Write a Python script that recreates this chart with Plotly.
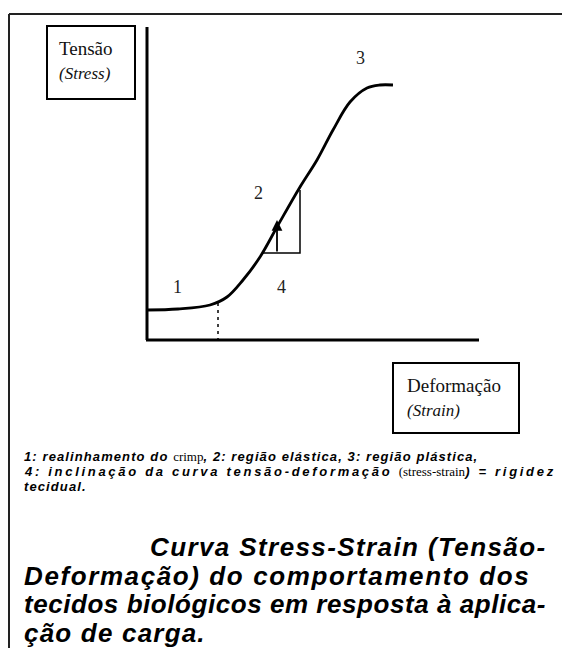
import plotly.graph_objects as go

# Stress-strain curve (schematic), origin at the axes corner
strain = [0, 31, 63, 80, 96, 113, 130, 153, 170, 186, 203, 220, 233, 246]
stress = [30, 31, 35, 43, 60, 83, 113, 153, 180, 210, 238, 252, 255, 255]

# Region labels
region_labels = ["1", "2", "3", "4"]
region_x = [30, 111, 213, 134]
region_y = [53, 147, 282, 53]

# Slope triangle (region 4) and crimp limit
tri_x = [116, 153, 153]
tri_y = [87, 87, 150]
crimp_x = 71
crimp_y = 37

y_label = ["Tensão", "<i>(Stress)</i>"]
x_label = ["Deformação", "<i>(Strain)</i>"]

SERIF = "<span style='font-family:Liberation Serif;font-style:normal;font-weight:normal;letter-spacing:0px'>"
caption = [
    "1: realinhamento do " + SERIF + "crimp</span>, 2: região elástica, 3: região plástica,",
    "4: inclinação da curva tensão-deformação " + SERIF + "(stress-strain</span>) = rigidez",
    "tecidual.",
]
caption_spacing = [1.1, 2.7, 1.1]
title_lines = [
    "Curva Stress-Strain (Tensão-",
    "Deformação) do comportamento dos",
    "tecidos biológicos em resposta à aplica-",
    "ção de carga.",
]
title_spacing = [1.4, 1.6, 0.55, 1.2]

fig = go.Figure()
fig.add_trace(go.Scatter(x=strain, y=stress, mode="lines",
                         line=dict(color="black", width=2.8, shape="spline", smoothing=1),
                         hoverinfo="skip", showlegend=False))
fig.add_trace(go.Scatter(x=tri_x, y=tri_y, mode="lines",
                         line=dict(color="black", width=1.5),
                         hoverinfo="skip", showlegend=False))
fig.add_trace(go.Scatter(x=[crimp_x, crimp_x], y=[crimp_y, 0], mode="lines",
                         line=dict(color="black", width=1.5, dash="3px,4px"),
                         hoverinfo="skip", showlegend=False))

shapes = []
# outer frame (top and left)
shapes.append(dict(type="line", x0=-138, y0=326, x1=420, y1=326, line=dict(color="#222", width=2)))
shapes.append(dict(type="line", x0=-138, y0=326, x1=-138, y1=-320, line=dict(color="#222", width=2)))
# axes
shapes.append(dict(type="line", x0=0, y0=313, x1=0, y1=0, line=dict(color="black", width=3)))
shapes.append(dict(type="line", x0=-1, y0=0, x1=332, y1=0, line=dict(color="black", width=3)))
# label boxes
shapes.append(dict(type="rect", x0=-100, y0=314, x1=-12, y1=241, line=dict(color="black", width=2)))
shapes.append(dict(type="rect", x0=246, y0=-23, x1=372, y1=-93, line=dict(color="black", width=2)))

annotations = []
# slope arrow
annotations.append(dict(x=130, y=120, ax=130, ay=87, axref="x", ayref="y", xref="x", yref="y",
                        text="", showarrow=True, arrowhead=2, arrowsize=1.2, arrowwidth=1.8,
                        arrowcolor="black"))
for t, x, y in zip(region_labels, region_x, region_y):
    annotations.append(dict(x=x, y=y, text=t, showarrow=False,
                            font=dict(family="Liberation Serif", size=18, color="#222")))
# axis label boxes text
annotations.append(dict(x=-90, y=292, text=y_label[0], showarrow=False, xanchor="left",
                        font=dict(family="Liberation Serif", size=19, color="#111")))
annotations.append(dict(x=-90, y=267, text=y_label[1], showarrow=False, xanchor="left",
                        font=dict(family="Liberation Serif", size=17, color="#111")))
annotations.append(dict(x=258, y=-45, text=x_label[0], showarrow=False, xanchor="left",
                        font=dict(family="Liberation Serif", size=19, color="#111")))
annotations.append(dict(x=258, y=-70, text=x_label[1], showarrow=False, xanchor="left",
                        font=dict(family="Liberation Serif", size=17, color="#111")))
# caption
for i, t in enumerate(caption):
    annotations.append(dict(x=-125, y=-116 - 15 * i,
                            text="<span style='letter-spacing:%gpx'>" % caption_spacing[i] + t + "</span>",
                            showarrow=False, xanchor="left",
                            font=dict(family="Liberation Sans", size=13, color="black",
                                      style="italic", weight="bold")))
# title
title_x = [1, -125, -125, -125]
for i, t in enumerate(title_lines):
    annotations.append(dict(x=title_x[i], y=-207 - 28.5 * i,
                            text="<span style='letter-spacing:%gpx'>" % title_spacing[i] + t + "</span>",
                            showarrow=False, xanchor="left",
                            font=dict(family="Liberation Sans", size=26, color="black",
                                      style="italic", weight="bold")))

fig.update_layout(
    width=562, height=648,
    margin=dict(l=0, r=0, t=0, b=0),
    paper_bgcolor="white", plot_bgcolor="white",
    xaxis=dict(range=[-147, 415], visible=False, fixedrange=True),
    yaxis=dict(range=[-308, 340], visible=False, fixedrange=True),
    shapes=shapes, annotations=annotations,
    showlegend=False,
)
fig.write_html("out.html", config={"displayModeBar": False},
               post_script="document.body.style.margin='0';")
